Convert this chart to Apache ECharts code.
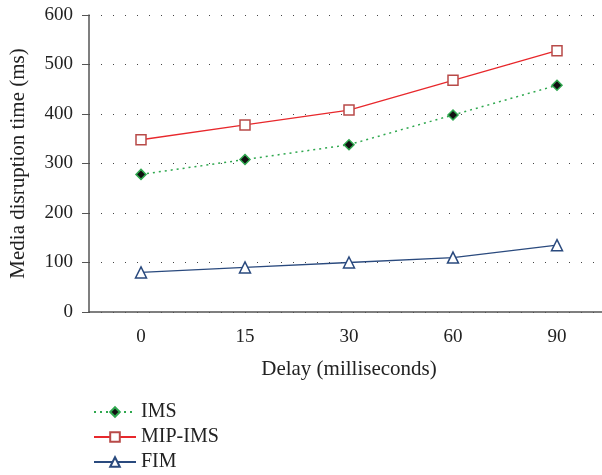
<!DOCTYPE html>
<html>
<head>
<meta charset="utf-8">
<script src="https://cdn.jsdelivr.net/npm/echarts@6/dist/echarts.min.js"></script>
<style>
  html, body { margin: 0; padding: 0; background: #fff; }
  #chart { width: 602px; height: 475px; }
</style>
</head>
<body>
<div id="chart"></div>
<script>
// values
const delays = ['0', '15', '30', '60', '90'];
const imsValues = [278, 308, 338, 398, 458];
const mipImsValues = [348, 378, 408, 468, 528];
const fimValues = [80, 90, 100, 110, 135];

const font = 'Liberation Serif';
const axisColor = '#555';
const textColor = '#222';

const myChart = echarts.init(document.getElementById('chart'), null, { renderer: 'canvas' });

const option = {
  backgroundColor: '#fff',
  animation: false,
  textStyle: { fontFamily: font },
  grid: { left: 89, top: 15, width: 520, height: 297, outerBoundsMode: 'none', containLabel: false },
  legend: {
    orient: 'vertical',
    left: 88,
    top: 397,
    height: 90,
    itemWidth: 42,
    itemHeight: 12,
    itemGap: 5,
    textStyle: { fontFamily: font, fontSize: 20, color: textColor },
    data: ['IMS', 'MIP-IMS', 'FIM']
  },
  xAxis: {
    type: 'category',
    data: delays,
    boundaryGap: true,
    name: 'Delay (milliseconds)',
    nameLocation: 'middle',
    nameGap: 47,
    nameTextStyle: { fontFamily: font, fontSize: 21, color: textColor },
    axisLine: { lineStyle: { color: axisColor, width: 1.5 } },
    axisTick: { alignWithLabel: true, length: 7, lineStyle: { color: axisColor } },
    axisLabel: { fontFamily: font, fontSize: 19, color: textColor, margin: 16 },
    splitLine: { show: false }
  },
  yAxis: {
    type: 'value',
    min: 0,
    max: 600,
    interval: 100,
    name: 'Media disruption time (ms)',
    nameLocation: 'middle',
    nameGap: 60,
    nameTextStyle: { fontFamily: font, fontSize: 21, color: textColor },
    axisLine: { show: true, lineStyle: { color: axisColor, width: 1.5 } },
    axisTick: { show: true, length: 7, lineStyle: { color: axisColor } },
    axisLabel: { fontFamily: font, fontSize: 19, color: textColor, margin: 16 },
    splitLine: {
      show: true,
      lineStyle: { color: '#444', width: 1, type: [1, 11] }
    }
  },
  series: [
    {
      name: 'IMS',
      type: 'line',
      data: imsValues,
      symbol: 'diamond',
      symbolSize: 10,
      lineStyle: { color: '#2fa84f', width: 1.5, type: [2, 4] },
      itemStyle: { color: '#111', borderColor: '#2fa84f', borderWidth: 1.5 }
    },
    {
      name: 'MIP-IMS',
      type: 'line',
      data: mipImsValues,
      symbol: 'rect',
      symbolSize: 10,
      lineStyle: { color: '#e8282c', width: 1.3 },
      itemStyle: { color: '#fff', borderColor: '#b84a48', borderWidth: 1.5 }
    },
    {
      name: 'FIM',
      type: 'line',
      data: fimValues,
      symbol: 'triangle',
      symbolSize: 11,
      lineStyle: { color: '#2a4a7e', width: 1.3 },
      itemStyle: { color: '#fff', borderColor: '#2a4a7e', borderWidth: 1.5 }
    }
  ]
};

myChart.setOption(option, true);
</script>
</body>
</html>
